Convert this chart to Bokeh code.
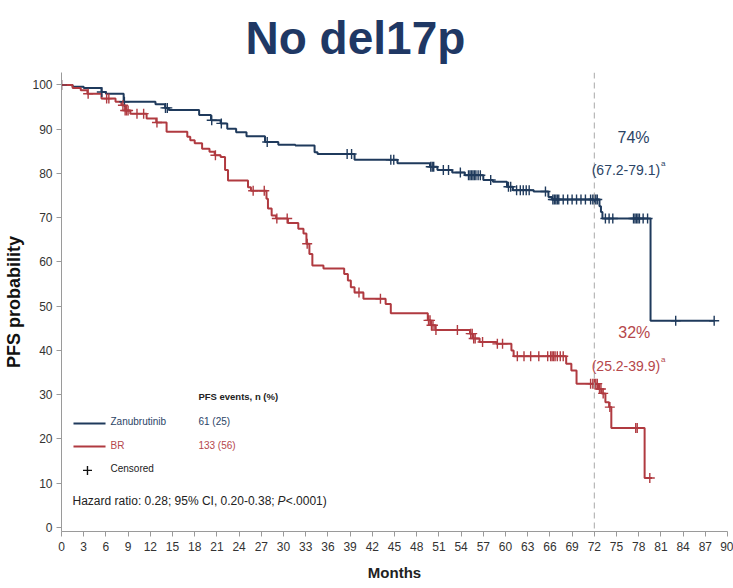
import numpy as np
from bokeh.plotting import figure
from bokeh.models import Range1d, Span, Label, FixedTicker
from bokeh.embed import file_html
from bokeh.resources import INLINE

NAVY = "#1f3a5c"
RED = "#b03a40"
SANS = "Liberation Sans"

# ---- data ----
x_ticks = list(range(0, 91, 3))
y_ticks = list(range(0, 101, 10))

zanu_t = [0, 1.5, 3.0, 5.4, 6.0, 8.4, 12.7, 14.0, 14.5, 18.6, 20.2, 21.5, 22.4, 23.6, 25.0,
          27.5, 29.3, 31.6, 34.2, 34.6, 39.6, 45.4, 49.8, 50.8, 52.8, 54.5, 57.0, 58.3,
          60.2, 61.0, 63.8, 65.8, 66.3, 72.7, 72.9, 73.1, 79.6]
zanu_s = [100, 99.6, 99.3, 98.4, 98.0, 96.2, 95.6, 94.8, 94.3, 93.2, 92.0, 91.3, 90.1, 89.3,
          88.4, 87.1, 86.5, 86.3, 84.8, 84.4, 83.1, 82.3, 81.5, 80.8, 80.2, 79.6, 78.5, 78.1,
          77.0, 76.2, 75.9, 74.7, 74.1, 72.6, 71.3, 69.8, 46.7]
zanu_end = 88.2
zanu_cens = [0, 5.45, 8.5, 14.05, 14.3, 20.3, 21.6, 27.8, 38.6, 39.2, 44.5, 44.9, 49.9, 50.1,
             50.3, 51.6, 52.3, 53.9, 55.0, 55.2, 55.4, 55.6, 55.8, 56.0, 56.3, 56.6, 58.0,
             60.4, 60.7, 61.5, 62.0, 62.4, 62.8, 63.2, 65.4, 66.4, 66.6, 66.8, 67.0, 67.2,
             67.8, 68.4, 69.0, 69.6, 70.2, 70.8, 71.5, 71.8, 72.0, 72.2, 72.4, 73.5, 74.0,
             74.5, 77.3, 77.5, 77.7, 77.9, 78.1, 78.6, 79.2, 83.0, 88.2]

br_t = [0, 1.5, 2.6, 3.5, 5.4, 7.3, 8.1, 8.6, 9.3, 11.5, 12.8, 14.2, 17.0, 17.4, 18.0, 19.0,
        20.0, 20.7, 21.5, 22.1, 22.5, 25.2, 25.6, 27.7, 27.9, 28.4, 29.0, 30.6, 32.0, 32.7,
        33.1, 33.5, 33.9, 35.4, 38.2, 38.7, 39.1, 39.6, 40.8, 43.8, 44.5, 49.5, 49.9, 50.5,
        55.2, 55.6, 56.5, 58.8, 60.8, 61.1, 68.2, 68.9, 69.6, 72.5, 73.0, 73.5, 74.0, 74.3,
        78.8]
br_s = [100, 99.3, 98.8, 98.0, 96.9, 96.2, 95.4, 94.2, 93.5, 92.4, 91.5, 89.4, 88.3, 87.5,
        86.8, 85.6, 84.9, 84.1, 83.7, 80.8, 78.4, 76.9, 76.1, 74.3, 72.1, 70.5, 69.8, 68.8,
        67.5, 66.4, 64.1, 61.8, 59.2, 58.5, 57.3, 55.8, 54.3, 53.1, 51.7, 50.5, 48.4, 46.8,
        45.7, 44.6, 43.8, 42.7, 41.9, 41.5, 40.0, 38.7, 37.0, 35.5, 32.5, 31.3, 30.3, 28.3,
        27.2, 22.5, 11.2]
br_end = 79.8
br_cens = [0, 3.6, 6.1, 6.4, 8.3, 8.6, 8.8, 9.0, 10.2, 11.1, 12.9, 20.8, 25.9, 27.4, 29.1,
           30.5, 33.2, 40.2, 43.1, 49.6, 49.8, 50.0, 50.2, 50.6, 53.5, 55.3, 55.5, 55.7,
           55.9, 56.9, 58.9, 59.6, 61.6, 62.5, 63.4, 64.5, 65.7, 66.1, 66.3, 66.5, 66.7,
           67.0, 67.4, 67.8, 71.5, 71.8, 72.0, 72.2, 72.4, 72.7, 72.9, 73.2, 74.1, 77.6,
           77.8, 79.5]

landmark = 72
zanu_pct, zanu_ci = "74%", "(67.2-79.1)"
br_pct, br_ci = "32%", "(25.2-39.9)"
arms = ["Zanubrutinib", "BR"]
events = ["61 (25)", "133 (56)"]


def cens_y(t, s, c):
    idx = np.searchsorted(np.array(t), np.array(c), side="right") - 1
    return list(np.array(s)[idx])


p = figure(width=733, height=588, output_backend="svg", toolbar_location=None,
           x_range=Range1d(0, 90), y_range=Range1d(-0.9, 102.8),
           min_border_left=61, min_border_right=6, min_border_top=72, min_border_bottom=57)
p.outline_line_color = None
p.grid.visible = False
p.background_fill_color = "white"
p.border_fill_color = "white"

p.title.text = "No del17p"
p.title.text_font = SANS
p.title.text_font_style = "bold"
p.title.text_font_size = "46px"
p.title.text_color = "#1f3864"
p.title.align = "left"
p.title.offset = 184
p.title.standoff = 17

for ax in (p.xaxis[0], p.yaxis[0]):
    ax.axis_line_color = "#9a9a9a"
    ax.major_tick_line_color = "#9a9a9a"
    ax.minor_tick_line_color = None
    ax.major_tick_out = 5
    ax.major_tick_in = 0
    ax.major_label_text_font = SANS
    ax.major_label_text_font_size = "12px"
    ax.major_label_text_color = "#333333"
    ax.major_label_standoff = 4

p.xaxis.major_label_standoff = 5
p.xaxis.ticker = FixedTicker(ticks=x_ticks)
p.yaxis.ticker = FixedTicker(ticks=y_ticks)
p.xaxis.axis_label = "Months"
p.xaxis.axis_label_text_font = SANS
p.xaxis.axis_label_text_font_style = "bold"
p.xaxis.axis_label_text_font_size = "15px"
p.xaxis.axis_label_text_color = "#222222"
p.xaxis.axis_label_standoff = 10
p.yaxis.axis_label = "PFS probability"
p.yaxis.axis_label_text_font = SANS
p.yaxis.axis_label_text_font_style = "bold"
p.yaxis.axis_label_text_font_size = "18px"
p.yaxis.axis_label_text_color = "#111111"
p.yaxis.axis_label_standoff = 5

p.add_layout(Span(location=landmark, dimension="height", line_color="#a8a8a8",
                  line_dash="6 4", line_width=1))

# curves
p.step(x=zanu_t + [zanu_end], y=zanu_s + [zanu_s[-1]], mode="after", line_color=NAVY, line_width=2)
p.step(x=br_t + [br_end], y=br_s + [br_s[-1]], mode="after", line_color=RED, line_width=2)
p.scatter(x=zanu_cens, y=cens_y(zanu_t, zanu_s, zanu_cens), marker="cross", size=10,
          line_color=NAVY, line_width=1.4)
p.scatter(x=br_cens, y=cens_y(br_t, br_s, br_cens), marker="cross", size=10,
          line_color=RED, line_width=1.4)


def lab(x, y, text, size, color, style="normal", align="left", baseline="middle"):
    p.add_layout(Label(x=x, y=y, text=text, text_font=SANS, text_font_size=size,
                       text_color=color, text_font_style=style, text_align=align,
                       text_baseline=baseline))


# landmark annotations
lab(77.3, 88.1, zanu_pct, "16px", "#2b4466", align="center")
lab(80.9, 80.7, zanu_ci, "14px", "#2b4466", align="right")
lab(81.0, 82.3, "a", "8px", "#2b4466")
lab(77.4, 44.1, br_pct, "16px", "#b5474b", align="center")
lab(80.9, 36.4, br_ci, "14px", "#b5474b", align="right")
lab(81.0, 38.0, "a", "8px", "#b5474b")

# legend
lab(18.5, 29.6, "PFS events, n (%)", "9.5px", "#222222", style="bold")
p.segment(x0=[1.62, 1.62], y0=[23.5, 18.3], x1=[5.95, 5.95], y1=[23.5, 18.3],
          line_color=[NAVY, RED], line_width=2)
lab(6.62, 23.95, arms[0], "10px", "#2b4466")
lab(18.5, 23.95, events[0], "10px", "#2b4466")
lab(6.62, 18.5, arms[1], "10px", "#b5474b")
lab(18.5, 18.5, events[1], "10px", "#b5474b")
p.scatter(x=[3.51], y=[12.9], marker="cross", size=9, line_color="#111111", line_width=1.4)
lab(6.62, 13.3, "Censored", "10px", "#222222")
lab(1.49, 5.9, "Hazard ratio: 0.28; 95% CI, 0.20-0.38; ", "12px", "#222222")
lab(29.2, 5.9, "P", "12px", "#222222", style="italic")
lab(30.3, 5.9, "<.0001)", "12px", "#222222")

open("out.html", "w").write(file_html(p, INLINE))
